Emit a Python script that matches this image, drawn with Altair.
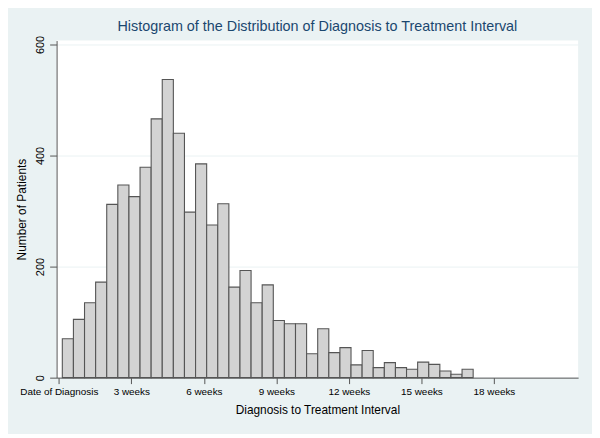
import altair as alt
import pandas as pd

# Histogram counts (37 bins from day 1 to day 120)
counts = [70, 105, 135, 172, 312, 347, 326, 379, 466, 537, 440, 298, 385, 275, 313,
          163, 193, 135, 167, 103, 97, 97, 43, 88, 45, 54, 23, 49, 18, 27, 18, 15,
          28, 24, 12, 6, 15]
bin_start_day = 1
bin_end_day = 120

tick_days = [0, 21, 42, 63, 84, 105, 126]
tick_labels = ["Date of Diagnosis", "3 weeks", "6 weeks", "9 weeks", "12 weeks",
               "15 weeks", "18 weeks"]
y_ticks = [0, 200, 400, 600]

n = len(counts)
w = (bin_end_day - bin_start_day) / n
df = pd.DataFrame({
    "start": [bin_start_day + i * w for i in range(n)],
    "end": [bin_start_day + (i + 1) * w for i in range(n)],
    "count": counts,
})

label_expr = " : ".join(
    [f"datum.value == {d} ? '{l}'" for d, l in zip(tick_days, tick_labels)]
) + " : ''"

chart = alt.Chart(df).mark_bar(
    fill="#d3d3d3", stroke="#555555", strokeWidth=1.1
).encode(
    x=alt.X("start:Q",
            scale=alt.Scale(domain=[-0.66, 150.4], nice=False, zero=False),
            axis=alt.Axis(values=tick_days, labelExpr=label_expr,
                          title="Diagnosis to Treatment Interval",
                          grid=False, tickSize=6, labelPadding=3,
                          titlePadding=8)),
    x2="end:Q",
    y=alt.Y("count:Q",
            scale=alt.Scale(domain=[0, 607], nice=False, zero=True),
            axis=alt.Axis(values=y_ticks, title="Number of Patients",
                          grid=True, gridColor="#eaf2f3", labelAngle=270,
                          labelAlign="center", labelBaseline="bottom",
                          labelFontSize=11,
                          tickSize=7, labelPadding=4, titlePadding=6)),
    y2=alt.datum(0),
).properties(
    width=526,
    height=340,
    autosize=alt.AutoSizeParams(type="none"),
    padding={"left": 49, "top": 31, "right": 14, "bottom": 55},
    background="#eaf2f3",
    title=alt.TitleParams(
        "Histogram of the Distribution of Diagnosis to Treatment Interval",
        fontSize=14.5, font="Liberation Sans", fontWeight="normal",
        color="#1a476f", anchor="middle", offset=1),
).configure_view(
    strokeWidth=0, fill="white"
).configure_axis(
    labelFont="Liberation Sans", titleFont="Liberation Sans",
    labelFontSize=10, titleFontSize=12, labelColor="#000000",
    titleColor="#000000", titleFontWeight="normal",
    domainColor="#555555", tickColor="#555555", labelOverlap=False,
)

chart.save("out.html", embed_options={"renderer": "svg", "actions": False})
